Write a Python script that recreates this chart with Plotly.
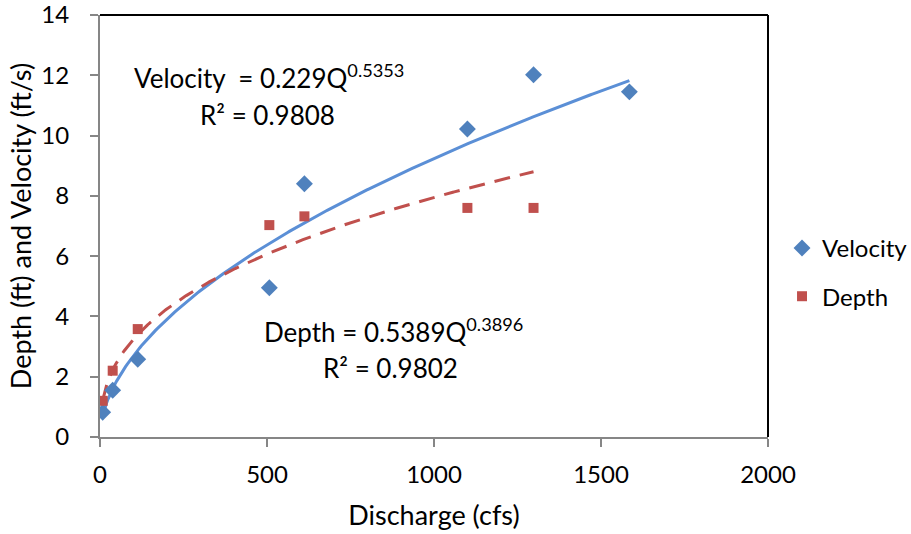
import numpy as np
import plotly.graph_objects as go

# Data
vel_q = [8, 38, 113, 507, 612, 1100, 1298, 1585]
vel_v = [0.82, 1.55, 2.58, 4.95, 8.4, 10.22, 12.02, 11.45]
dep_q = [8, 38, 113, 507, 612, 1100, 1298]
dep_d = [1.2, 2.2, 3.58, 7.03, 7.32, 7.6, 7.6]

# Power trendline coefficients (as printed on the chart)
vel_a, vel_b = 0.229, 0.5353
dep_a, dep_b = 0.5389, 0.3896

x_ticks = [0, 500, 1000, 1500, 2000]
y_ticks = [0, 2, 4, 6, 8, 10, 12, 14]

BLUE = "#4F81BD"
BLUE_LINE = "#5B8FD6"
RED = "#C0504D"
FONT = "Lato"
TXT = 26

qv = np.linspace(min(vel_q), max(vel_q), 300)
qd = np.linspace(min(dep_q), max(dep_q), 300)

fig = go.Figure()
fig.add_trace(go.Scatter(x=qv, y=vel_a * qv ** vel_b, mode="lines",
                         line=dict(color=BLUE_LINE, width=3), showlegend=False,
                         hoverinfo="skip"))
fig.add_trace(go.Scatter(x=qd, y=dep_a * qd ** dep_b, mode="lines",
                         line=dict(color=RED, width=3, dash="16px,10px"), showlegend=False,
                         hoverinfo="skip"))
fig.add_trace(go.Scatter(x=vel_q, y=vel_v, mode="markers", name="Velocity",
                         legendgroup="v",
                         marker=dict(symbol="diamond", size=13, color=BLUE)))
fig.add_trace(go.Scatter(x=dep_q, y=dep_d, mode="markers", name="Depth",
                         legendgroup="d",
                         marker=dict(symbol="square", size=10, color=RED)))

fig.add_annotation(x=96, y=11.97, xref="x", yref="y", xanchor="left",
                   text="Velocity  = 0.229Q<sup>0.5353</sup>", showarrow=False,
                   font=dict(size=TXT, color="black", family=FONT))
fig.add_annotation(x=293, y=10.68, xref="x", yref="y", xanchor="left",
                   text="R² = 0.9808", showarrow=False,
                   font=dict(size=TXT, color="black", family=FONT))
fig.add_annotation(x=485, y=3.52, xref="x", yref="y", xanchor="left",
                   text="Depth = 0.5389Q<sup>0.3896</sup>", showarrow=False,
                   font=dict(size=TXT, color="black", family=FONT))
fig.add_annotation(x=662, y=2.29, xref="x", yref="y", xanchor="left",
                   text="R² = 0.9802", showarrow=False,
                   font=dict(size=TXT, color="black", family=FONT))

fig.update_layout(
    width=911, height=534,
    margin=dict(l=100, r=143, t=15, b=97, autoexpand=False),
    paper_bgcolor="white", plot_bgcolor="white",
    font=dict(family=FONT, size=24, color="black"),
    legend=dict(x=1.021, y=0.39, xanchor="left", yanchor="middle",
                font=dict(size=24), itemwidth=30, tracegroupgap=14,
                bgcolor="rgba(0,0,0,0)"),
    xaxis=dict(range=[0, 2000], tickvals=x_ticks, showgrid=False, zeroline=False,
               showline=True, linecolor="#868686", linewidth=2, mirror=False,
               ticks="outside", ticklen=8, tickcolor="#868686", tickwidth=2,
               ticklabelstandoff=7, tickfont=dict(size=24), ticklabeloverflow="allow",
               title=dict(text="Discharge (cfs)", font=dict(size=27), standoff=19)),
    yaxis=dict(range=[0, 14], tickvals=y_ticks, showgrid=False, zeroline=False,
               showline=True, linecolor="#868686", linewidth=2,
               ticks="outside", ticklen=8, tickcolor="#868686", tickwidth=2,
               ticklabelstandoff=16, tickfont=dict(size=24), ticklabeloverflow="allow",
               title=dict(text="Depth (ft) and Velocity (ft/s)", font=dict(size=27), standoff=2)),
    shapes=[
        dict(type="line", xref="paper", yref="paper", x0=0, x1=1, y0=1, y1=1,
             line=dict(color="black", width=2)),
        dict(type="line", xref="paper", yref="paper", x0=1, x1=1, y0=0, y1=1,
             line=dict(color="black", width=2)),
    ],
)

fig.write_html("out.html", config={"displayModeBar": False},
               post_script="document.body.style.margin='0';")
